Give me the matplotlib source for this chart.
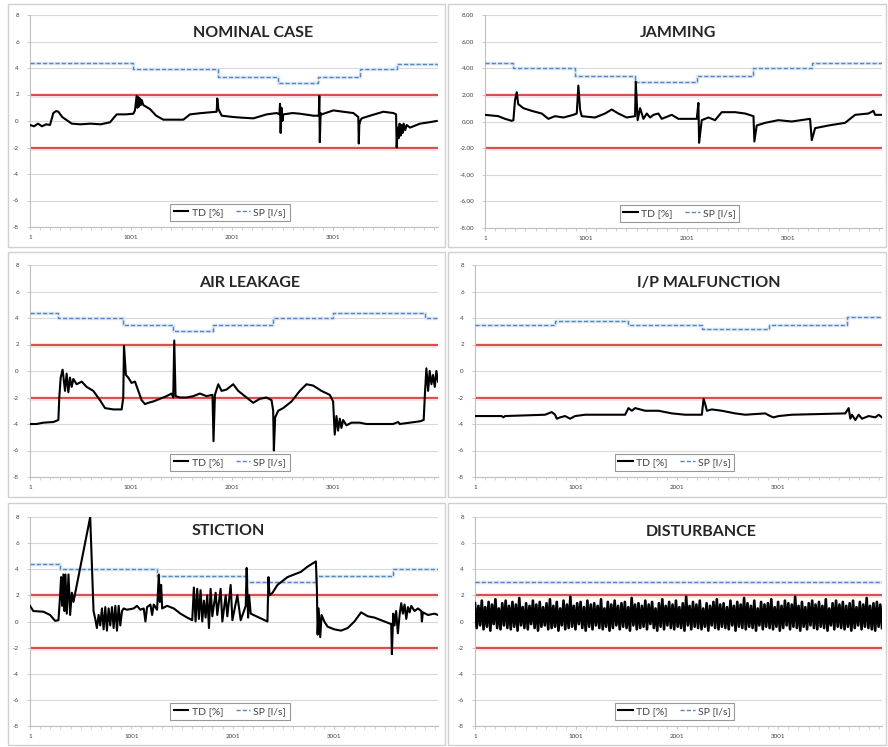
import matplotlib
matplotlib.use("Agg")
import matplotlib.pyplot as plt
import numpy as np
from matplotlib.patches import Rectangle

plt.rcParams['font.family'] = ['Lato', 'DejaVu Sans']

# ---- data ----
titles = ["NOMINAL CASE", "JAMMING", "AIR LEAKAGE", "I/P MALFUNCTION", "STICTION", "DISTURBANCE"]
x_ticks = [1, 1001, 2001, 3001]
y_ticks = [-8, -6, -4, -2, 0, 2, 4, 6, 8]
limit_lines = [2, -2]

nominal_x = [1, 40, 80, 120, 160, 199, 232, 260, 282, 320, 414, 500, 600, 700, 793, 859, 950, 1024,
             1040, 1057, 1065, 1073, 1081, 1090, 1098, 1106, 1123, 1189, 1250, 1321, 1519, 1585, 1700,
             1849, 1855, 1866, 1899, 2014, 2100, 2212, 2300, 2344, 2443, 2470, 2476, 2482, 2490, 2500,
             2509, 2600, 2674, 2806, 2860, 2865, 2870, 2878, 2888, 3004, 3100, 3202, 3251, 3256, 3261,
             3270, 3284, 3367, 3499, 3598, 3625, 3631, 3640, 3650, 3660, 3670, 3680, 3690, 3700, 3715,
             3730, 3763, 3862, 3950, 4027]
nominal_td = [-0.3, -0.4, -0.2, -0.4, -0.25, -0.3, 0.6, 0.75, 0.7, 0.3, -0.2, -0.25, -0.2, -0.25, -0.1,
              0.5, 0.5, 0.55, 0.8, 1.9, 1.0, 1.8, 1.1, 1.7, 1.2, 1.6, 1.2, 0.9, 0.4, 0.1, 0.1, 0.5, 0.6,
              0.7, 1.7, 0.9, 0.4, 0.3, 0.25, 0.2, 0.4, 0.5, 0.6, 0.5, 1.3, -0.9, 1.0, 0.0, 0.5, 0.6, 0.55,
              0.4, 0.4, 1.9, -1.6, 0.6, 0.5, 0.8, 0.7, 0.6, 0.3, -1.7, -0.3, 0.0, 0.2, 0.4, 0.7, 0.6, 0.5,
              -2.0, -0.5, -1.3, -0.2, -1.1, -0.3, -0.9, -0.2, -0.7, -0.3, -0.5, -0.2, -0.1, 0.0]
nominal_sp_x = [1, 1025, 1865, 2460, 2855, 3270, 3630, 4040]
nominal_sp = [4.4, 3.95, 3.35, 2.9, 3.35, 3.95, 4.3, 4.3]

jamming_x = [1, 133, 199, 265, 282, 298, 315, 330, 348, 381, 463, 562, 628, 694, 777, 876, 909, 925,
             942, 958, 1090, 1189, 1255, 1321, 1403, 1486, 1493, 1512, 1536, 1569, 1602, 1635, 1668,
             1717, 1750, 1849, 1915, 2097, 2113, 2120, 2146, 2212, 2278, 2344, 2476, 2575, 2658, 2667,
             2690, 2773, 2905, 3037, 3218, 3235, 3268, 3400, 3565, 3664, 3796, 3845, 3862, 3928]
jamming_td = [0.5, 0.4, 0.2, 0.05, 0.1, 1.6, 2.2, 1.3, 1.2, 1.0, 0.8, 0.6, 0.2, 0.4, 0.3, 0.5, 0.6, 2.7,
              0.9, 0.4, 0.3, 0.6, 0.9, 0.6, 0.3, 0.4, 3.0, 0.1, 1.0, 0.2, 0.6, 0.3, 0.5, 0.6, 0.2, 0.5,
              0.2, 0.2, 1.4, -1.6, 0.1, 0.3, 0.1, 0.7, 0.7, 0.6, 0.4, -1.5, -0.3, -0.1, 0.1, 0.0, 0.2,
              -1.4, -0.5, -0.3, -0.1, 0.5, 0.6, 0.8, 0.5, 0.5]
jamming_sp_x = [1, 282, 892, 1486, 2097, 2658, 3235, 3930]
jamming_sp = [4.4, 4.0, 3.45, 3.0, 3.45, 4.0, 4.4, 4.4]

leak_x = [1, 67, 133, 232, 282, 291, 305, 324, 348, 364, 381, 397, 414, 430, 463, 513, 562, 628, 694,
          744, 826, 909, 925, 932, 951, 975, 1007, 1041, 1074, 1107, 1140, 1173, 1222, 1288, 1354,
          1404, 1420, 1430, 1443, 1486, 1552, 1618, 1684, 1750, 1809, 1819, 1833, 1866, 1899, 1948,
          2014, 2064, 2146, 2212, 2278, 2344, 2394, 2410, 2417, 2430, 2460, 2509, 2592, 2674, 2740,
          2806, 2888, 2971, 3004, 3020, 3037, 3053, 3070, 3086, 3103, 3136, 3185, 3268, 3334, 3598,
          3648, 3664, 3862, 3901, 3915, 3928, 3945, 3961, 3978, 3994, 4011, 4027, 4043]
leak_td = [-4.0, -4.0, -3.9, -3.85, -3.7, -2.0, -0.5, 0.1, -1.5, -0.2, -1.6, -0.5, -1.2, -0.6, -1.0,
           -0.8, -1.2, -1.5, -2.2, -2.8, -2.9, -2.9, -2.0, 1.9, -0.3, -0.5, -0.9, -0.8, -1.5, -2.2,
           -2.5, -2.4, -2.3, -2.1, -1.9, -1.7, -2.0, 2.3, -1.9, -2.0, -2.0, -1.9, -1.7, -1.9, -1.8,
           -5.3, -1.8, -1.0, -1.5, -1.4, -1.0, -1.5, -2.0, -2.4, -2.1, -2.0, -2.2, -3.0, -6.0, -3.5,
           -3.0, -2.8, -2.3, -1.5, -1.0, -1.1, -1.5, -1.8, -2.3, -4.8, -3.4, -4.5, -3.6, -4.3, -3.7,
           -4.1, -3.9, -3.9, -4.0, -4.0, -3.85, -4.0, -3.8, -3.7, -1.5, 0.2, -1.5, 0.0, -1.0, -0.3,
           -1.2, 0.0, -0.8]
leak_sp_x = [1, 282, 925, 1420, 1816, 2410, 3004, 3912, 4043]
leak_sp = [4.4, 4.0, 3.5, 3.0, 3.5, 4.0, 4.4, 4.0, 4.0]

ip_x = [1, 265, 282, 298, 694, 760, 793, 810, 843, 892, 942, 991, 1090, 1486, 1519, 1552, 1585, 1684,
        1816, 1948, 2080, 2245, 2262, 2278, 2295, 2344, 2443, 2575, 2674, 2872, 2921, 2954, 3004,
        3136, 3664, 3697, 3714, 3730, 3763, 3796, 3829, 3895, 3961, 3994, 4027]
ip_td = [-3.4, -3.4, -3.5, -3.4, -3.3, -3.1, -3.3, -3.6, -3.5, -3.4, -3.6, -3.4, -3.3, -3.3, -2.8,
         -3.0, -2.8, -3.0, -3.0, -3.2, -3.3, -3.3, -2.1, -2.5, -3.0, -2.9, -3.0, -3.2, -3.3, -3.2,
         -3.4, -3.5, -3.4, -3.3, -3.2, -2.8, -3.6, -3.3, -3.7, -3.3, -3.6, -3.4, -3.5, -3.3, -3.5]
ip_sp_x = [1, 793, 1519, 2245, 2905, 3681, 4027]
ip_sp = [3.5, 3.8, 3.5, 3.15, 3.5, 4.05, 4.05]

stiction_x = [1, 34, 133, 199, 249, 282, 298, 308, 318, 331, 341, 351, 364, 381, 397, 414, 430, 595,
              628, 645, 661, 678, 694, 711, 727, 744, 760, 777, 793, 810, 826, 843, 859, 876, 892, 909,
              925, 958, 1024, 1057, 1090, 1123, 1140, 1156, 1189, 1206, 1222, 1255, 1272, 1282, 1295,
              1305, 1354, 1420, 1486, 1552, 1602, 1618, 1635, 1651, 1668, 1684, 1701, 1717, 1734, 1750,
              1767, 1783, 1800, 1833, 1849, 1882, 1899, 1932, 1948, 1981, 1998, 2047, 2080, 2130, 2139,
              2153, 2163, 2179, 2344, 2354, 2364, 2394, 2443, 2542, 2674, 2740, 2822, 2832, 2839, 2849,
              2865, 2878, 2905, 2938, 3004, 3070, 3136, 3202, 3268, 3334, 3400, 3499, 3565, 3572, 3585,
              3598, 3614, 3631, 3648, 3664, 3681, 3697, 3714, 3730, 3747, 3763, 3796, 3829, 3862, 3868,
              3878, 3928, 3994, 4027]
stiction_td = [1.2, 0.8, 0.75, 0.5, 0.05, 0.1, 2.0, 3.4, 1.2, 3.6, 0.8, 3.6, 0.6, 3.6, 0.5, 2.2, 1.5,
               8.0, 0.8, 0.2, -0.5, 0.5, -0.3, 1.0, -0.6, 1.1, -0.7, 1.0, -0.3, 1.1, -0.5, 1.2, -0.7,
               1.2, -0.3, 0.8, 1.0, 0.9, 1.0, 1.2, 0.9, 1.0, 0.0, 1.1, 1.3, 0.5, 1.3, 0.9, 3.6, 1.5,
               2.8, 1.0, 1.2, 1.0, 0.6, 0.3, 0.1, 2.6, 0.0, 2.5, 0.2, 2.4, 0.0, 1.6, 0.3, 2.0, -0.5,
               2.5, 0.4, 2.2, 0.5, 2.5, 0.0, 2.0, 0.4, 2.8, 0.1, 2.0, 0.1, 1.2, 4.1, 0.3, 2.0, 0.6, 0.0,
               3.4, 2.0, 2.2, 2.8, 3.4, 3.8, 4.2, 4.6, 2.5, -1.0, 1.0, -1.2, 0.5, 0.0, -0.4, -0.6, -0.7,
               -0.5, 0.0, 0.7, 0.4, 0.3, 0.0, -0.2, -2.5, 0.6, -0.3, 0.8, -0.9, 0.5, 1.4, 0.6, 1.3, 0.2,
               1.1, 0.7, 1.2, 0.8, 1.0, 0.8, 0.0, 0.7, 0.5, 0.6, 0.5]
stiction_sp_x = [1, 298, 1255, 2146, 2822, 3581, 4027]
stiction_sp = [4.4, 4.0, 3.5, 3.0, 3.5, 4.0, 4.0]

disturb_td = [1.4, -0.5, 1.2, -0.3, 1.6, -0.6, 1.1, -0.4, 1.5, -0.7, 1.3, -0.2, 1.7, -0.5, 1.0, -0.6, 1.4, -0.3, 1.6, -0.5,
              1.2, -0.6, 1.5, -0.4, 1.3, -0.7, 1.8, -0.3, 1.1, -0.5, 1.4, -0.6, 1.2, -0.2, 1.6, -0.5, 1.3, -0.7, 1.5, -0.4,
              1.1, -0.3, 1.4, -0.6, 1.7, -0.5, 1.2, -0.4, 1.5, -0.7, 1.0, -0.3, 1.6, -0.6, 1.3, -0.5, 1.9, -0.4, 1.2, -0.6,
              1.4, -0.2, 1.5, -0.5, 1.1, -0.7, 1.6, -0.4, 1.3, -0.6, 1.4, -0.3, 1.2, -0.5, 1.7, -0.6, 1.0, -0.4, 1.5, -0.7,
              1.3, -0.5, 1.6, -0.3, 1.2, -0.6, 1.4, -0.4, 1.5, -0.5, 1.1, -0.7, 1.8, -0.3, 1.3, -0.6, 1.4, -0.5, 1.2, -0.4,
              1.6, -0.6, 1.3, -0.2, 1.5, -0.5, 1.0, -0.7, 1.4, -0.4, 1.7, -0.6, 1.2, -0.3, 1.5, -0.5, 1.3, -0.6, 1.6, -0.4,
              1.1, -0.5, 1.4, -0.7, 1.9, -0.3, 1.2, -0.6, 1.5, -0.4, 1.3, -0.5, 1.6, -0.6, 1.0, -0.4, 1.4, -0.7, 1.2, -0.3,
              1.5, -0.5, 1.7, -0.6, 1.3, -0.4, 1.4, -0.5, 1.1, -0.6, 1.6, -0.3, 1.2, -0.7, 1.5, -0.4, 1.3, -0.5, 1.8, -0.6,
              1.4, -0.4, 1.2, -0.5, 1.6, -0.7, 1.0, -0.3, 1.5, -0.6, 1.3, -0.4, 1.4, -0.5, 1.7, -0.6, 1.1, -0.4, 1.5, -0.7,
              1.2, -0.5, 1.6, -0.3, 1.4, -0.6, 1.3, -0.4, 1.9, -0.5, 1.2, -0.7, 1.5, -0.4, 1.1, -0.6, 1.4, -0.3, 1.6, -0.5,
              1.3, -0.6, 1.5, -0.4, 1.2, -0.5, 1.7, -0.7, 1.0, -0.3, 1.4, -0.6, 1.6, -0.4, 1.3, -0.5, 1.5, -0.6, 1.2, -0.4,
              1.4, -0.7, 1.6, -0.5, 1.1, -0.3, 1.5, -0.6, 1.3, -0.4, 1.8, -0.5, 1.2, -0.6, 1.4, -0.7, 1.5, -0.4, 1.3, -0.5]
disturb_x_end = 4027
disturb_sp_x = [1, 4027]
disturb_sp = [3.0, 3.0]

disturb_x = np.linspace(1, disturb_x_end, len(disturb_td))

panels = [
    (nominal_x, nominal_td, nominal_sp_x, nominal_sp),
    (jamming_x, jamming_td, jamming_sp_x, jamming_sp),
    (leak_x, leak_td, leak_sp_x, leak_sp),
    (ip_x, ip_td, ip_sp_x, ip_sp),
    (stiction_x, stiction_td, stiction_sp_x, stiction_sp),
    (disturb_x, disturb_td, disturb_sp_x, disturb_sp),
]

# ---- layout (pixel boxes of the reference) ----
W, H = 888, 747
frames = [(8, 4, 445, 247), (448, 4, 886, 247),
          (8, 252, 445, 497), (448, 252, 886, 497),
          (8, 503, 445, 745), (448, 503, 886, 745)]
plot_boxes = [(30, 15, 438, 227), (485, 15, 882, 228),
              (30, 265, 438, 477), (475, 265, 882, 477),
              (30, 517, 438, 726), (475, 517, 882, 726)]
title_pos = [(253, 33), (678, 33), (250, 283), (709, 283), (228, 531), (701, 532)]

fig = plt.figure(figsize=(W / 100, H / 100), dpi=100)
fig.patch.set_facecolor('white')

for fx0, fy0, fx1, fy1 in frames:
    fig.patches.append(Rectangle((fx0 / W, 1 - fy1 / H), (fx1 - fx0) / W, (fy1 - fy0) / H,
                                 transform=fig.transFigure, fill=False, edgecolor='#d0d0d0', lw=1.0))

for i, (xs, td, spx, sp) in enumerate(panels):
    x0, y0, x1, y1 = plot_boxes[i]
    ax = fig.add_axes([x0 / W, 1 - y1 / H, (x1 - x0) / W, (y1 - y0) / H])
    ax.set_facecolor('none')
    xmax = spx[-1]
    ax.set_xlim(1, xmax)
    ax.set_ylim(-8, 8)

    for yv in y_ticks:
        ax.axhline(yv, color='#d9d9d9', lw=0.8, zorder=0)
    for yv in limit_lines:
        ax.axhline(yv, color='#f6c8c8', lw=3.5, alpha=0.5, zorder=1)
        ax.axhline(yv, color='#d94040', lw=1.3, zorder=2)

    ax.step(spx, sp, where='post', color='#dde9f6', lw=2.5, zorder=2)
    ax.step(spx, sp, where='post', color='#5a86c0', lw=1.0, ls=(0, (3, 1.5)), zorder=3)
    td_lw = 1.9 if i == 5 else 1.5
    ax.plot(xs, td, color='black', lw=td_lw, zorder=4)

    for s in ['top', 'right']:
        ax.spines[s].set_visible(False)
    for s in ['left', 'bottom']:
        ax.spines[s].set_color('#bfbfbf')
        ax.spines[s].set_linewidth(0.8)

    ax.set_yticks(y_ticks)
    if i == 1:
        ax.set_yticklabels([f"{v:.2f}" for v in y_ticks])
    else:
        ax.set_yticklabels([str(v) for v in y_ticks])
    ax.set_xticks(x_ticks)
    ax.set_xticklabels([str(v) for v in x_ticks])
    ax.set_xticks(np.arange(101, xmax, 100), minor=True)
    ax.tick_params(axis='both', labelsize=4.5, labelcolor='#404040', color='#bfbfbf', length=2, width=0.6)
    ax.tick_params(axis='x', which='minor', length=2, color='#bfbfbf', width=0.5)
    ax.tick_params(axis='y', pad=6)
    ax.tick_params(axis='x', pad=4)

    tx, ty = title_pos[i]
    fig.text(tx / W, 1 - ty / H, titles[i], ha='center', va='center',
             fontsize=11.5, fontweight='bold', color='#262626')

    h1, = ax.plot([], [], color='black', lw=1.5)
    h2, = ax.plot([], [], color='#5a86c0', lw=1.0, ls=(0, (3, 1.5)))
    leg = ax.legend([h1, h2], ["TD [%]", "SP [l/s]"], loc='lower center', bbox_to_anchor=(0.49, 0.005),
                    ncol=2, fontsize=7.5, frameon=True, fancybox=False, handlelength=1.4,
                    handletextpad=0.3, columnspacing=1.2, borderpad=0.35, labelcolor='#404040')
    leg.get_frame().set_edgecolor('#7f7f7f')
    leg.get_frame().set_linewidth(0.8)

fig.savefig('out.png', dpi=100, facecolor='white')
